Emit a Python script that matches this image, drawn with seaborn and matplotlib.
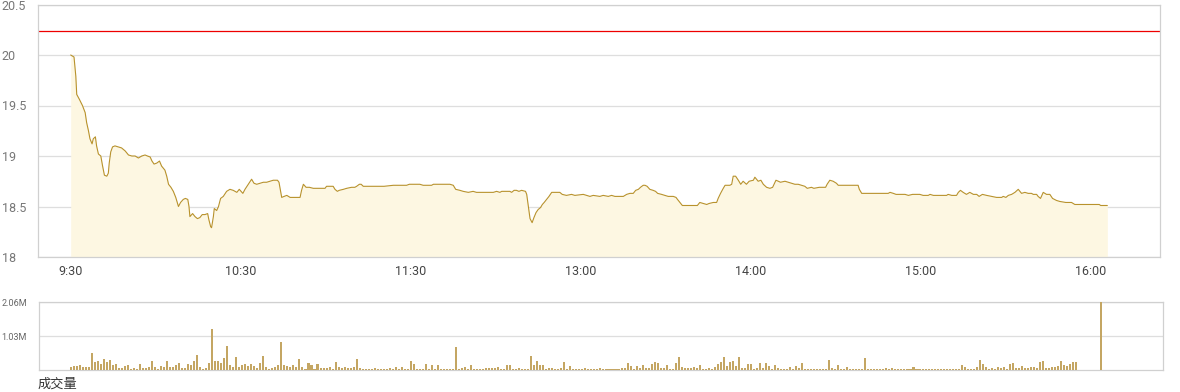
import numpy as np
import pandas as pd
import matplotlib
matplotlib.use("Agg")
import matplotlib.pyplot as plt
import seaborn as sns

# ---------------- data ----------------
prev_close = 20.24

price_idx = [
    0, 1.1, 1.7, 2.0, 2.9, 3.9, 4.8, 5.3, 5.9, 6.4, 7.1, 7.5, 8.2, 8.6, 9.2, 10.0, 10.6, 11.2, 12.0, 12.5,
    12.8, 13.3, 13.9, 14.7, 15.8, 16.9, 18.1, 19.2, 20.3, 21.4, 22.5, 23.6, 24.7, 25.5, 26.4, 27.0, 27.7,
    28.6, 29.5, 30.2, 31.3, 31.9, 32.5, 33.3, 34.1, 34.9, 35.8, 36.5, 37.4, 38.1, 38.9, 39.3, 39.6, 40.5,
    41.3, 42.1, 42.9, 43.7, 44.6, 45.5, 45.9, 46.5, 46.8, 47.4, 47.7, 48.5, 49.1, 49.8, 50.7, 51.8, 52.9,
    54.0, 55.2, 56.0, 57.2, 57.9, 59.0, 60.1, 60.9, 61.8, 62.9, 64.0, 65.1, 66.2, 67.3, 68.7, 69.2, 70.1,
    70.9, 71.8, 72.9, 74.0, 75.1, 76.2, 76.7, 77.3, 78.2, 79.3, 80.6, 81.7,
    82.8, 84.5, 85.0, 87.2, 87.8, 88.6, 89.2, 90.6, 91.7, 93.3, 94.4, 95.0, 95.9, 96.5, 97.2, 98.3, 102.7,
    104.1, 107.2, 108.5, 111.6, 112.5, 116.0, 117.1, 119.9, 120.5, 122.7, 123.8, 126.0, 127.1, 127.9,
    129.3, 130.4, 132.1, 133.7, 134.8, 140.4, 141.5, 142.6, 143.2, 145.9, 146.5, 147.3, 148.1, 148.9,
    149.8, 151.1, 151.5, 152.0, 152.6, 153.3, 153.9, 154.6, 155.3, 156.1, 156.7, 157.3, 158.1, 158.9,
    159.8, 162.5, 163.3, 164.7, 166.4, 167.5, 170.3, 171.4,
    172.5, 173.6, 175.8, 176.9, 178.6, 179.7, 180.8, 183.6, 184.7, 185.8, 186.9, 187.7, 188.6, 189.3,
    190.2, 190.8, 191.5, 192.4, 193.5, 194.3, 195.0, 196.3, 197.4, 198.5, 200.2, 201.1, 201.6, 202.4,
    203.2, 208.2, 209.0, 210.2, 211.3, 212.1, 213.5, 214.6, 215.1, 215.9, 216.8, 217.4, 219.0, 219.6,
    220.1, 220.9, 221.8, 222.6, 223.4, 224.5, 225.4, 226.8, 227.3, 228.4, 229.3, 230.1, 231.2, 232.3,
    233.2, 234.3, 235.1, 235.8, 237.3, 238.4, 239.5, 240.6, 241.7, 242.8, 243.9, 244.7, 246.1, 246.9,
    248.7, 250.8, 251.3, 252.2, 253.3, 254.4, 255.0, 261.6, 262.0, 262.8,
    264.4, 271.6, 272.2, 273.3, 274.2, 276.0, 277.2, 278.3, 279.7, 282.1, 283.2, 284.9, 285.5, 286.6,
    291.0, 291.5, 292.7, 294.3, 294.9, 295.6, 296.5, 297.6, 298.7, 299.9, 301.0, 301.8, 302.9, 304.3,
    305.9, 307.6, 309.3, 309.8, 310.7, 311.5, 312.6, 313.7, 314.8, 315.9, 317.0, 318.1, 319.2, 319.8,
    320.9, 321.4, 322.2, 323.1, 324.2, 325.3, 326.2, 327.5, 328.6, 330.6, 332.5, 333.6, 341.7, 342.2,
    344.4,
]
price = [
    20.00, 19.98, 19.79, 19.61, 19.56, 19.50, 19.43, 19.33, 19.25, 19.17, 19.12, 19.17, 19.19, 19.10,
    19.02, 19.00, 18.90, 18.81, 18.80, 18.83, 18.93, 19.04, 19.09, 19.10, 19.09, 19.08, 19.05, 19.01,
    19.00, 19.00, 18.98, 19.00, 19.01, 19.00, 18.99, 18.95, 18.92, 18.93, 18.95, 18.90, 18.86, 18.80,
    18.72, 18.69, 18.65, 18.59, 18.50, 18.54, 18.57, 18.58, 18.57, 18.50, 18.40, 18.43, 18.40, 18.38,
    18.39, 18.42, 18.42, 18.43, 18.37, 18.30, 18.29, 18.40, 18.48, 18.46, 18.50, 18.58, 18.60, 18.65,
    18.67, 18.66, 18.64, 18.67, 18.63, 18.67, 18.72, 18.77, 18.73, 18.72, 18.73, 18.74, 18.74, 18.75,
    18.76, 18.76, 18.74, 18.59, 18.60, 18.61, 18.59, 18.59, 18.59, 18.59, 18.66, 18.72, 18.69, 18.69,
    18.68, 18.68,
    18.68, 18.68, 18.70, 18.70, 18.67, 18.65, 18.66, 18.67, 18.68, 18.69, 18.69, 18.70, 18.72, 18.72,
    18.70, 18.70, 18.70, 18.70, 18.71, 18.71, 18.71, 18.72, 18.72, 18.71, 18.71, 18.72, 18.72, 18.72,
    18.72, 18.71, 18.67, 18.66, 18.65, 18.64, 18.65, 18.64, 18.64, 18.65, 18.64, 18.65, 18.65, 18.64,
    18.66, 18.66, 18.65, 18.66, 18.65, 18.62, 18.51, 18.38, 18.34, 18.39, 18.44, 18.47, 18.49, 18.52,
    18.54, 18.57, 18.60, 18.64, 18.64, 18.62, 18.61, 18.62, 18.61, 18.62, 18.61,
    18.60, 18.61, 18.60, 18.61, 18.60, 18.61, 18.60, 18.60, 18.62, 18.63, 18.63, 18.66, 18.67, 18.69,
    18.71, 18.71, 18.70, 18.67, 18.66, 18.65, 18.63, 18.62, 18.61, 18.60, 18.60, 18.59, 18.57, 18.54,
    18.51, 18.51, 18.54, 18.53, 18.52, 18.53, 18.54, 18.54, 18.58, 18.63, 18.68, 18.71, 18.71, 18.72,
    18.80, 18.80, 18.76, 18.72, 18.75, 18.72, 18.75, 18.76, 18.79, 18.75, 18.76, 18.72, 18.69, 18.68,
    18.69, 18.76, 18.75, 18.74, 18.75, 18.74, 18.73, 18.72, 18.72, 18.71, 18.70, 18.68, 18.69, 18.68,
    18.69, 18.69, 18.72, 18.76, 18.75, 18.73, 18.71, 18.71, 18.67, 18.63,
    18.63, 18.63, 18.64, 18.63, 18.62, 18.62, 18.62, 18.61, 18.62, 18.62, 18.61, 18.61, 18.62, 18.61,
    18.61, 18.62, 18.61, 18.61, 18.64, 18.66, 18.64, 18.62, 18.64, 18.62, 18.62, 18.60, 18.62, 18.61,
    18.60, 18.59, 18.59, 18.60, 18.59, 18.61, 18.62, 18.64, 18.67, 18.63, 18.64, 18.63, 18.63, 18.62,
    18.62, 18.60, 18.58, 18.64, 18.62, 18.62, 18.58, 18.56, 18.55, 18.54, 18.54, 18.52, 18.52, 18.51,
    18.51,
]

# volume in millions of shares, one bar per minute
volume = [
    0.09, 0.12, 0.12, 0.15, 0.09, 0.09, 0.09, 0.52, 0.24, 0.27,
    0.18, 0.33, 0.24, 0.30, 0.15, 0.18, 0.06, 0.06, 0.12, 0.15,
    0.03, 0.06, 0.03, 0.18, 0.06, 0.06, 0.09, 0.27, 0.09, 0.03,
    0.12, 0.09, 0.27, 0.09, 0.09, 0.15, 0.21, 0.06, 0.06, 0.18,
    0.15, 0.27, 0.45, 0.09, 0.03, 0.06, 0.21, 1.24, 0.27, 0.27,
    0.21, 0.36, 0.73, 0.15, 0.09, 0.39, 0.09, 0.15, 0.18, 0.12,
    0.18, 0.12, 0.06, 0.21, 0.42, 0.09, 0.03, 0.06, 0.09, 0.15,
    0.85, 0.15, 0.12, 0.09, 0.15, 0.09, 0.33, 0.09, 0.03, 0.21,
    0.15, 0.03, 0.18, 0.06, 0.06, 0.06, 0.09, 0.03, 0.24, 0.09,
    0.06, 0.09, 0.06, 0.06, 0.09, 0.33, 0.06, 0.03, 0.03, 0.03,
    0.03, 0.06, 0.03, 0.03, 0.03, 0.03, 0.06, 0.03, 0.09, 0.03,
    0.09, 0.03, 0.03, 0.27,
    0.18, 0.03, 0.03, 0.03, 0.18, 0.03, 0.15, 0.03, 0.15, 0.03,
    0.03, 0.03, 0.03, 0.03, 0.70, 0.03, 0.06, 0.09, 0.03, 0.15,
    0.03, 0.03, 0.03, 0.03, 0.06, 0.06, 0.06, 0.06, 0.09, 0.03,
    0.03, 0.15, 0.15, 0.03, 0.03, 0.06, 0.03, 0.03, 0.03, 0.42,
    0.15, 0.27, 0.15, 0.15, 0.03, 0.06, 0.06, 0.03, 0.03, 0.06,
    0.24, 0.03, 0.12, 0.03, 0.03, 0.03, 0.03, 0.06, 0.03, 0.03,
    0.03, 0.03, 0.06, 0.03, 0.03, 0.03, 0.03, 0.03, 0.03, 0.06,
    0.06, 0.21, 0.12, 0.03, 0.12, 0.06, 0.15, 0.06, 0.06, 0.18,
    0.24, 0.21, 0.06, 0.06, 0.15, 0.03, 0.03, 0.21, 0.39, 0.09,
    0.06, 0.06, 0.06, 0.09, 0.06, 0.15, 0.03, 0.03, 0.06, 0.03,
    0.09, 0.18, 0.24, 0.39, 0.12, 0.24, 0.27, 0.12, 0.39, 0.06,
    0.06, 0.18,
    0.18, 0.03, 0.06, 0.21, 0.06, 0.21, 0.12, 0.03, 0.15, 0.06,
    0.03, 0.03, 0.03, 0.09, 0.03, 0.12, 0.06, 0.21, 0.03, 0.03,
    0.03, 0.03, 0.03, 0.03, 0.03, 0.03, 0.30, 0.06, 0.03, 0.15,
    0.03, 0.03, 0.09, 0.03, 0.03, 0.03, 0.03, 0.03, 0.36, 0.03,
    0.03, 0.03, 0.03, 0.03, 0.03, 0.06, 0.03, 0.06, 0.03, 0.03,
    0.03, 0.03, 0.03, 0.03, 0.09, 0.03, 0.03, 0.03, 0.03, 0.03,
    0.03, 0.03, 0.03, 0.03, 0.03, 0.03, 0.03, 0.03, 0.03, 0.03,
    0.15, 0.09, 0.03, 0.03, 0.03, 0.09, 0.30, 0.18, 0.09, 0.03,
    0.06, 0.03, 0.09, 0.06, 0.09, 0.03, 0.18, 0.21, 0.06, 0.06,
    0.12, 0.06, 0.06, 0.09, 0.09, 0.06, 0.24, 0.27, 0.06, 0.06,
    0.09, 0.09, 0.12, 0.27, 0.15, 0.12, 0.18, 0.24, 0.24,
]
closing_auction_idx = 342.3
closing_auction_volume = 2.06

time_labels = ["9:30", "10:30", "11:30", "13:00", "14:00", "15:00", "16:00"]
price_ticks = [18, 18.5, 19, 19.5, 20, 20.5]
price_tick_labels = ["18", "18.5", "19", "19.5", "20", "20.5"]
vol_ticks = [1.03, 2.06]
vol_tick_labels = ["1.03M", "2.06M"]
vol_title = "成交量"

# ---------------- style ----------------
sns.set_theme(style="white")
plt.rcParams["font.family"] = ["Roboto", "DejaVu Sans"]

line_col = "#b8922c"
fill_col = "#fdf7e2"
bar_col = "#c4a663"
grid_col = "#dedede"
spine_col = "#d0d0d0"

W, H = 1180, 392
fig = plt.figure(figsize=(W / 100, H / 100), dpi=100)

def frac_box(l, t, r, b):
    return [l / W, 1 - b / H, (r - l) / W, (b - t) / H]

ax = fig.add_axes(frac_box(38, 4.5, 1160, 257))
ax2 = fig.add_axes(frac_box(39, 302, 1163, 370))

px_per_min = 3.01
x0_px = 70.7

def px_to_idx(px):
    return (px - x0_px) / px_per_min

# ---- price panel ----
df = pd.DataFrame({"t": price_idx, "price": price})
ax.fill_between(df["t"], df["price"], 18, color=fill_col, linewidth=0, zorder=1)
sns.lineplot(data=df, x="t", y="price", ax=ax, color=line_col, linewidth=0.8, zorder=3)
ax.axhline(prev_close, color="#ee0000", linewidth=0.9, zorder=2)

ax.set_xlim(px_to_idx(38), px_to_idx(1160))
ax.set_ylim(18, 20.5)
ax.set_yticks(price_ticks)
ax.set_yticklabels(price_tick_labels)
tick_pos = [px_to_idx(71 + 170 * i) for i in range(len(time_labels))]
ax.set_xticks(tick_pos)
ax.set_xticklabels(time_labels)
ax.grid(axis="y", color=grid_col, linewidth=0.9)
ax.grid(axis="x", visible=False)
ax.set_axisbelow(True)
ax.set_xlabel("")
ax.set_ylabel("")
for s in ax.spines.values():
    s.set_color(spine_col)
    s.set_linewidth(0.9)
ax.tick_params(axis="y", length=0, pad=26, labelsize=9, labelcolor="#777777")
ax.tick_params(axis="x", length=0, pad=6, labelsize=9, labelcolor="#444444")
for lbl in ax.get_yticklabels():
    lbl.set_horizontalalignment("left")

# ---- volume panel ----
vdf = pd.DataFrame({
    "t": list(np.arange(len(volume), dtype=float)) + [closing_auction_idx],
    "vol": volume + [closing_auction_volume],
})
ax2.bar(vdf["t"], vdf["vol"], width=0.68, color=bar_col, linewidth=0, zorder=3)
ax2.set_xlim(px_to_idx(39), px_to_idx(1163))
ax2.set_ylim(0, 2.06)
ax2.set_yticks(vol_ticks)
ax2.set_yticklabels(vol_tick_labels)
ax2.set_xticks([])
ax2.grid(axis="y", color=grid_col, linewidth=0.9)
ax2.set_axisbelow(True)
for s in ax2.spines.values():
    s.set_color(spine_col)
    s.set_linewidth(0.9)
ax2.tick_params(axis="y", length=0, pad=27, labelsize=6.5, labelcolor="#666666")
for lbl in ax2.get_yticklabels():
    lbl.set_horizontalalignment("left")

fig.text(38 / W, 1 - 384 / H, vol_title, ha="left", va="center", fontsize=9.5,
         color="#333333", family=["Noto Sans CJK SC", "DejaVu Sans"])

fig.savefig("out.png", dpi=100)
